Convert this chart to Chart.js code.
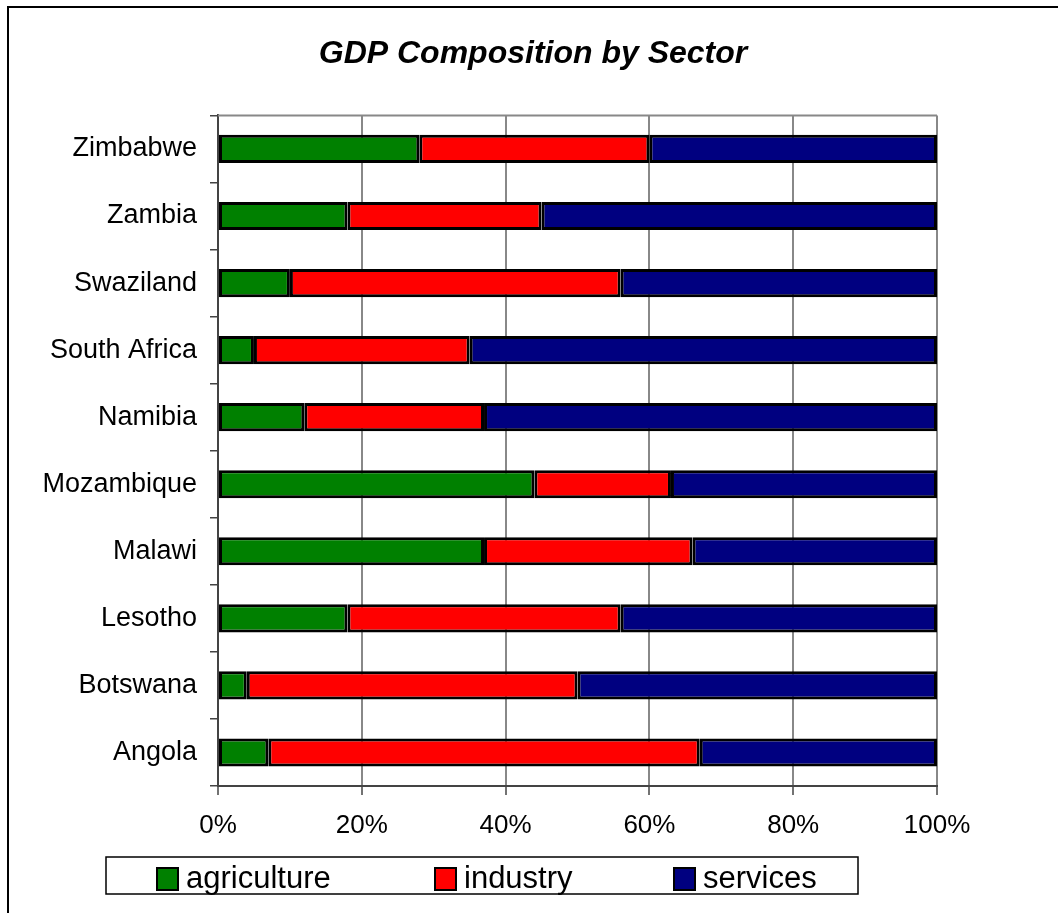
<!DOCTYPE html>
<html>
<head>
<meta charset="utf-8">
<script src="https://cdn.jsdelivr.net/npm/chart.js@4"></script>
<style>
  html, body { margin: 0; padding: 0; background: #fff; }
  #wrap { position: absolute; left: 0; top: 0; width: 1058px; height: 913px; }
</style>
</head>
<body>
<div id="wrap"><canvas id="c" width="1058" height="913"></canvas></div>
<script>
const categories = ['Zimbabwe','Zambia','Swaziland','South Africa','Namibia','Mozambique','Malawi','Lesotho','Botswana','Angola'];
const agriculture = [28, 18, 10, 5, 12, 44, 37, 18, 4, 7];
const industry    = [32, 27, 46, 30, 25, 19, 29, 38, 46, 60];
const services    = [40, 55, 44, 65, 63, 37, 34, 44, 50, 33];
const tickLabels  = ['0%','20%','40%','60%','80%','100%'];
const seriesNames = ['agriculture','industry','services'];
const seriesColors = ['#008000','#FF0000','#000080'];

const FONT = "'Liberation Sans', Arial, sans-serif";

const framePlugin = {
  id: 'frame',
  beforeDraw(chart) {
    const ctx = chart.ctx;
    ctx.save();
    ctx.fillStyle = '#fff';
    ctx.fillRect(0, 0, chart.width, chart.height);
    ctx.strokeStyle = '#000';
    ctx.lineWidth = 2;
    ctx.beginPath();
    ctx.moveTo(8, chart.height);
    ctx.lineTo(8, 7);
    ctx.lineTo(chart.width, 7);
    ctx.stroke();
    ctx.restore();
  },
  beforeDatasetsDraw(chart) {
    const a = chart.chartArea, ctx = chart.ctx;
    ctx.save();
    ctx.strokeStyle = '#888';
    ctx.lineWidth = 2;
    ctx.beginPath();
    ctx.moveTo(a.left, a.top);
    ctx.lineTo(a.right, a.top);
    ctx.stroke();
    ctx.restore();
  }
};

const boxLegendPlugin = {
  id: 'boxLegend',
  afterDraw(chart, args, opts) {
    const ctx = chart.ctx;
    ctx.save();
    ctx.strokeStyle = '#000';
    ctx.lineWidth = 1.5;
    ctx.strokeRect(opts.box[0], opts.box[1], opts.box[2], opts.box[3]);
    ctx.font = opts.fontSize + 'px ' + FONT;
    ctx.textBaseline = 'alphabetic';
    ctx.textAlign = 'left';
    chart.data.datasets.forEach((ds, i) => {
      const x = opts.xs[i];
      ctx.fillStyle = ds.backgroundColor;
      ctx.fillRect(x, opts.swY, opts.sw, opts.sh);
      ctx.lineWidth = 2;
      ctx.strokeStyle = '#000';
      ctx.strokeRect(x, opts.swY, opts.sw, opts.sh);
      ctx.fillStyle = '#000';
      ctx.fillText(ds.label, x + opts.sw + 8, opts.baseline);
    });
    ctx.restore();
  }
};

const datasets = [agriculture, industry, services].map((vals, i) => ({
  label: seriesNames[i],
  data: vals,
  backgroundColor: seriesColors[i],
  borderColor: '#000',
  borderWidth: 3,
  borderSkipped: false,
  categoryPercentage: 1.0,
  barPercentage: 0.42,
  xAxisID: 'x',
  yAxisID: 'y'
}));

new Chart(document.getElementById('c'), {
  type: 'bar',
  data: { labels: categories, datasets },
  plugins: [framePlugin, boxLegendPlugin],
  options: {
    indexAxis: 'y',
    responsive: false,
    animation: false,
    devicePixelRatio: 1,
    layout: { padding: { left: 8, top: 7, right: 0, bottom: 0 } },
    scales: {
      x: {
        type: 'linear',
        stacked: true,
        min: 0, max: 100,
        position: 'bottom',
        ticks: {
          stepSize: 20,
          color: '#000',
          font: { family: FONT, size: 26 },
          padding: 15,
          callback: (v) => tickLabels[Math.round(v / 20)]
        },
        grid: { color: '#888', lineWidth: 2, tickLength: 9, tickColor: '#444', tickWidth: 1.5 },
        border: { display: true, color: '#444', width: 2 },
        afterFit(s) { s.height = 127; }
      },
      y: {
        type: 'category',
        stacked: true,
        position: 'left',
        offset: true,
        ticks: {
          color: '#000',
          font: { family: FONT, size: 27 },
          padding: 13
        },
        grid: { offset: true, drawOnChartArea: false, tickLength: 8, color: '#444', lineWidth: 1.5 },
        border: { display: true, color: '#444', width: 2 },
        afterFit(s) { s.width = 210; }
      },
      yR: {
        type: 'category',
        position: 'right',
        display: true,
        grid: { display: false },
        ticks: { display: false },
        border: { display: false },
        afterFit(s) { s.width = 121; }
      }
    },
    plugins: {
      legend: { display: false },
      tooltip: { enabled: false },
      title: {
        display: true,
        text: 'GDP Composition by Sector',
        color: '#000',
        font: { family: FONT, size: 32, weight: 'bold', style: 'italic' },
        padding: { top: 28, bottom: 42 }
      },
      boxLegend: {
        box: [106, 857, 752, 37],
        xs: [157, 435, 674],
        swY: 868, sw: 21, sh: 22,
        fontSize: 31,
        baseline: 888
      }
    }
  }
});
</script>
</body>
</html>
